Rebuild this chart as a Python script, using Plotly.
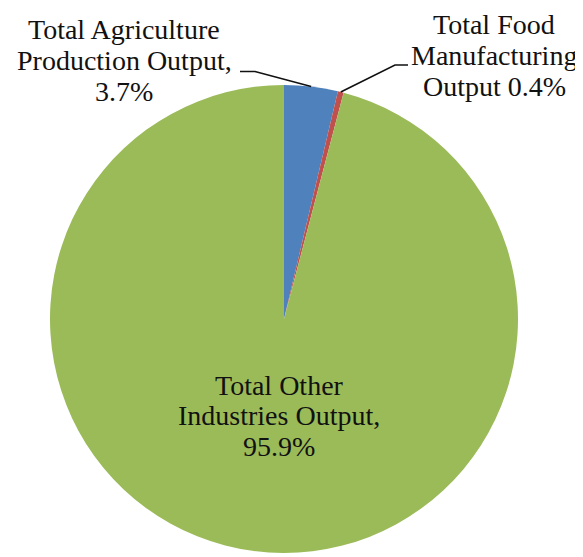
import math
import plotly.graph_objects as go

# ---- data ----
categories = ["Total Agriculture Production Output",
              "Total Food Manufacturing Output",
              "Total Other Industries Output"]
shares = [3.7, 0.4, 95.9]
colors = ["#4F81BD", "#C0504D", "#9BBB59"]
label_lines = [
    ["Total Agriculture", "Production Output,", "3.7%"],
    ["Total Food", "Manufacturing", "Output 0.4%"],
    ["Total Other", "Industries Output,", "95.9%"],
]

# ---- layout geometry (pixels, as seen in the page) ----
W, H = 583, 557
OFF = 8  # page body margin
CX, CY, R = 284, 319, 234
FONT = dict(family="'Liberation Serif', 'Times New Roman', Times, 'DejaVu Serif', serif",
            size=28, color="#111111")

# label block placement: (center x, first line y), line gap
label_pos = [(124, 30), (494, 25), (279, 385)]
LINE_GAP = 30.5
# elbow points for leader lines (label side)
leader_start = {0: [(240, 71.5), (255, 71.5)], 1: [(408, 65), (395, 65)]}


def px(x):
    return (x - OFF) / W


def py(y):
    return 1 - (y - OFF) / H


fig = go.Figure(go.Pie(
    labels=categories,
    values=shares,
    sort=False,
    direction="clockwise",
    rotation=0,
    marker=dict(colors=colors, line=dict(width=0)),
    textinfo="none",
    hoverinfo="label+percent",
    showlegend=False,
    domain=dict(x=[px(CX - R), px(CX + R)], y=[py(CY + R), py(CY - R)]),
))

annotations = []
for i, lines in enumerate(label_lines):
    lx, ly = label_pos[i]
    for j, t in enumerate(lines):
        annotations.append(dict(
            text=t, x=px(lx), y=py(ly + j * LINE_GAP), xref="paper", yref="paper",
            xanchor="center", yanchor="middle", showarrow=False, font=FONT,
        ))

# leader lines to the middle of each small slice's outer edge
shapes = []
total = sum(shares)
cum = 0.0
for i, v in enumerate(shares):
    mid = (cum + v / 2) / total * 2 * math.pi
    cum += v
    if i not in leader_start:
        continue
    ex = CX + R * math.sin(mid)
    ey = CY - R * math.cos(mid)
    pts = leader_start[i] + [(ex, ey)]
    path = "M " + " L ".join(f"{px(x)},{py(y)}" for x, y in pts)
    shapes.append(dict(type="path", path=path, xref="paper", yref="paper",
                       line=dict(color="#111111", width=1.6)))

fig.update_layout(
    width=W, height=H,
    margin=dict(l=0, r=0, t=0, b=0),
    paper_bgcolor="white", plot_bgcolor="white",
    font=FONT,
    annotations=annotations, shapes=shapes,
)

fig.write_html("out.html")
